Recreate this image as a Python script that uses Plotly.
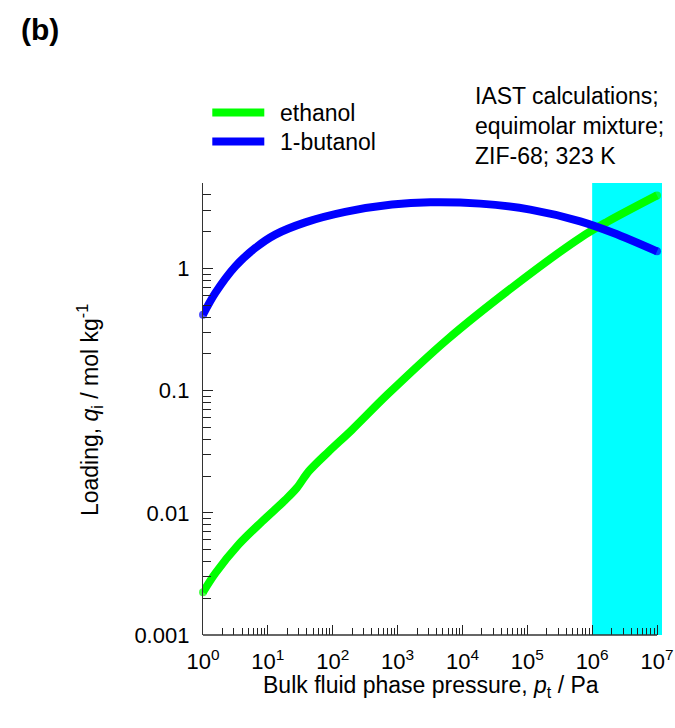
import numpy as np
import plotly.graph_objects as go

# IAST mixture loadings in ZIF-68 at 323 K (equimolar ethanol / 1-butanol)
pressure_ethanol = [1, 1.55, 3.5, 8.1, 18.6, 28, 42.6, 86.5, 198, 700,
                    5780, 61500, 656000, 1.69e6, 1e7]
loading_ethanol = [0.00224, 0.0032, 0.00546, 0.00847, 0.01276, 0.0160, 0.0218,
                   0.0317, 0.0478, 0.093, 0.261, 0.713, 1.78, 2.40, 3.96]

pressure_butanol = [1, 1.55, 3.15, 6.4, 13, 37.8, 156, 820, 3200, 18800,
                    111000, 656000, 2.14e6, 1e7]
loading_butanol = [0.418, 0.63, 1.04, 1.47, 1.89, 2.38, 2.90, 3.33, 3.48, 3.39,
                   3.03, 2.43, 1.95, 1.38]

series_names = ["ethanol", "1-butanol"]
series_colors = ["#00FF00", "#0000FF"]

# shaded pressure window
band_start = 1e6
band_end = 10 ** 7.077

x_tick_vals = [10 ** k for k in range(8)]
x_tick_text = [f"10<sup>{k}</sup>" for k in range(8)]
y_tick_vals = [0.001, 0.01, 0.1, 1]
y_tick_text = ["0.001", "0.01", "0.1", "1"]

W, H = 675, 728
ML, MR, MT, MB = 202.7, 13.3, 183.4, 93
FONT = "Liberation Sans, Arial, Helvetica, sans-serif"
LW = 8


def px_x(px):
    return (px - ML) / (W - ML - MR)


def px_y(py):
    return (H - MB - py) / (H - MT - MB)


def caps(n):
    # round ends on the thick curves
    return [LW] + [0] * (n - 2) + [LW]


fig = go.Figure()
for xs, ys, name, color in [
    (pressure_ethanol, loading_ethanol, series_names[0], series_colors[0]),
    (pressure_butanol, loading_butanol, series_names[1], series_colors[1]),
]:
    fig.add_trace(go.Scatter(
        x=xs, y=ys, name=name, mode="lines+markers",
        line=dict(color=color, width=LW, shape="spline", smoothing=0.9),
        marker=dict(size=caps(len(xs)), color=color, line=dict(width=0)),
        showlegend=False, cliponaxis=False,
    ))

minor_x = [m * 10 ** k for k in range(7) for m in range(2, 10)]
minor_y = [m * 10 ** k for k in range(-3, 1) for m in range(2, 10) if m * 10 ** k <= 5]

shapes = [
    dict(type="rect", xref="x", yref="paper", x0=band_start, x1=band_end,
         y0=0, y1=1, fillcolor="#00FFFF", line=dict(width=0), layer="below"),
    dict(type="line", xref="x", yref="paper", x0=x_tick_vals[0], x1=x_tick_vals[-1],
         y0=0, y1=0, line=dict(color="#333333", width=1.3), layer="above"),
]

annotations = []
# legend
legend_rows = [113, 142]
for name, color, py in zip(series_names, series_colors, legend_rows):
    shapes.append(dict(type="line", xref="paper", yref="paper",
                       x0=px_x(212), x1=px_x(264), y0=px_y(py), y1=px_y(py),
                       line=dict(color=color, width=LW)))
    annotations.append(dict(xref="paper", yref="paper", x=px_x(278), y=px_y(py),
                            text=name, showarrow=False, xanchor="left",
                            yanchor="middle", font=dict(size=23, color="black")))

annotations += [
    dict(xref="paper", yref="paper", x=px_x(473), y=px_y(126),
         text="IAST calculations;<br>equimolar mixture;<br>ZIF-68; 323 K",
         showarrow=False, xanchor="left", yanchor="middle", align="left",
         font=dict(size=23, color="black")),
    dict(xref="paper", yref="paper", x=px_x(431), y=px_y(686),
         text="Bulk fluid phase pressure, <i>p</i><sub>t</sub> / Pa",
         showarrow=False, xanchor="center", yanchor="middle",
         font=dict(size=23, color="black")),
    dict(xref="paper", yref="paper", x=px_x(89), y=px_y(410),
         text="Loading, <i>q</i><sub>i</sub> / mol kg<sup>-1</sup>",
         showarrow=False, textangle=-90, xanchor="center", yanchor="middle",
         font=dict(size=23, color="black")),
    dict(xref="paper", yref="paper", x=px_x(40), y=px_y(30),
         text="<b>(b)</b>", showarrow=False, xanchor="center", yanchor="middle",
         font=dict(size=30, color="black")),
]

fig.update_layout(
    width=W, height=H,
    margin=dict(l=ML, r=MR, t=MT, b=MB, pad=0, autoexpand=False),
    paper_bgcolor="white", plot_bgcolor="white",
    font=dict(family=FONT, size=22, color="black"),
    shapes=shapes, annotations=annotations,
    xaxis=dict(
        type="log", range=[0, np.log10(band_end)], automargin=False,
        showgrid=False, zeroline=False, showline=False,
        tickmode="array", tickvals=x_tick_vals, ticktext=x_tick_text,
        ticks="inside", ticklen=10, tickwidth=1, tickcolor="#222222",
        ticklabelstandoff=11,
        tickfont=dict(size=22, color="black"),
        minor=dict(tickmode="array", tickvals=minor_x, ticks="inside",
                   ticklen=7, tickwidth=1, tickcolor="#222222", showgrid=False),
    ),
    yaxis=dict(
        type="log", range=[-3, np.log10(5)], automargin=False,
        showgrid=False, zeroline=False, showline=True,
        linecolor="#333333", linewidth=1.3,
        tickmode="array", tickvals=y_tick_vals, ticktext=y_tick_text,
        ticks="inside", ticklen=10, tickwidth=1, tickcolor="#222222",
        ticklabelstandoff=8,
        tickfont=dict(size=22, color="black"),
        minor=dict(tickmode="array", tickvals=minor_y, ticks="inside",
                   ticklen=8, tickwidth=1, tickcolor="#222222", showgrid=False),
    ),
)

fig.write_html("out.html")
